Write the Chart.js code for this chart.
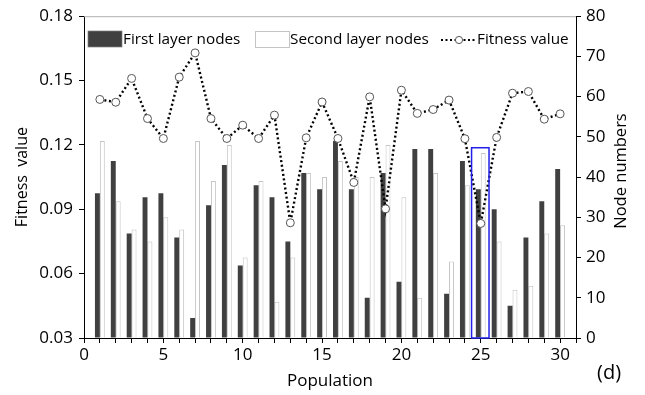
<!DOCTYPE html>
<html>
<head>
<meta charset="utf-8">
<script src="https://cdn.jsdelivr.net/npm/chart.js@4"></script>
<style>
html,body{margin:0;padding:0;background:#fff;}
#wrap{width:645px;height:395px;position:relative;}
</style>
</head>
<body>
<div id="wrap"><canvas id="c" width="645" height="395"></canvas></div>
<script>
const population = [1,2,3,4,5,6,7,8,9,10,11,12,13,14,15,16,17,18,19,20,21,22,23,24,25,26,27,28,29,30];
const firstLayer = [36,44,26,35,36,25,5,33,43,18,38,35,24,41,37,49,37,10,41,14,47,47,11,44,37,32,8,25,34,42];
const secondLayer = [49,34,27,24,30,27,49,39,48,20,39,9,20,41,40,44,40,40,48,35,10,41,19,38,46,24,12,13,26,28];
const fitness = [0.1412,0.1399,0.1510,0.1323,0.1230,0.1516,0.1629,0.1323,0.1230,0.1292,0.1230,0.1339,0.0837,0.1233,0.1400,0.1230,0.1025,0.1424,0.0902,0.1455,0.1347,0.1365,0.1409,0.1229,0.0834,0.1235,0.1441,0.1449,0.1320,0.1345];
const fitnessTicks = [0.03,0.06,0.09,0.12,0.15,0.18];
const nodeTicks = [0,10,20,30,40,50,60,70,80];
const highlight = {x0: 24.42, x1: 25.52, top: 47.3};

const FONT = '"Open Sans"';

const extras = {
  id: 'extras',
  afterDatasetsDraw(chart) {
    const {ctx, chartArea: a, scales} = chart;
    ctx.save();
    // top frame line
    ctx.strokeStyle = '#b0b0b0';
    ctx.lineWidth = 1;
    ctx.beginPath();
    ctx.moveTo(a.left, a.top + 0.5);
    ctx.lineTo(a.right, a.top + 0.5);
    ctx.stroke();
    // highlight rectangle
    const x0 = scales.x.getPixelForValue(highlight.x0);
    const x1 = scales.x.getPixelForValue(highlight.x1);
    const yt = scales.y2.getPixelForValue(highlight.top);
    const yb = scales.y2.getPixelForValue(0);
    ctx.strokeStyle = '#1f1fe6';
    ctx.lineWidth = 1.5;
    ctx.strokeRect(x0, yt, x1 - x0, yb - yt);
    // legend
    ctx.font = '15.3px ' + FONT;
    ctx.textBaseline = 'middle';
    const ly = 40;
    ctx.fillStyle = '#404040';
    ctx.fillRect(88, 31, 34, 16);
    ctx.strokeStyle = '#808080';
    ctx.lineWidth = 0.7;
    ctx.strokeRect(88, 31, 34, 16);
    ctx.fillStyle = '#000';
    ctx.fillText('First layer nodes', 123, ly);
    ctx.fillStyle = '#fff';
    ctx.fillRect(255, 31, 34, 16);
    ctx.strokeStyle = '#c4c4c4';
    ctx.lineWidth = 1;
    ctx.strokeRect(255.5, 31.5, 34, 16);
    ctx.fillStyle = '#000';
    ctx.fillText('Second layer nodes', 290, ly);
    ctx.strokeStyle = '#000';
    ctx.lineWidth = 2.2;
    ctx.setLineDash([2, 2.5]);
    ctx.beginPath();
    ctx.moveTo(441, ly);
    ctx.lineTo(476, ly);
    ctx.stroke();
    ctx.setLineDash([]);
    ctx.beginPath();
    ctx.arc(459, ly, 3.6, 0, Math.PI * 2);
    ctx.fillStyle = '#fff';
    ctx.fill();
    ctx.strokeStyle = '#555';
    ctx.lineWidth = 1;
    ctx.stroke();
    ctx.fillStyle = '#000';
    ctx.fillText('Fitness value', 477, ly);
    // right axis title
    ctx.save();
    ctx.translate(621, 171);
    ctx.rotate(-Math.PI / 2);
    ctx.textAlign = 'center';
    ctx.font = '16.5px ' + FONT;
    ctx.fillText('Node numbers', 0, 0);
    ctx.restore();
    // panel label
    ctx.font = '20px ' + FONT;
    ctx.textAlign = 'left';
    ctx.fillText('(d)', 597, 373);
    ctx.restore();
  }
};

new Chart(document.getElementById('c'), {
  type: 'bar',
  data: {
    datasets: [
      {
        type: 'line',
        label: 'Fitness value',
        data: population.map((p, i) => ({x: p, y: fitness[i]})),
        yAxisID: 'y',
        borderColor: '#000',
        borderWidth: 2.4,
        borderDash: [2, 2.6],
        pointRadius: 4,
        pointBackgroundColor: '#fff',
        pointBorderColor: '#555',
        pointBorderWidth: 1,
        tension: 0,
        order: 0
      },
      {
        label: 'First layer nodes',
        data: population.map((p, i) => ({x: p, y: firstLayer[i]})),
        yAxisID: 'y2',
        backgroundColor: '#404040',
        borderWidth: 0,
        categoryPercentage: 0.62,
        barPercentage: 1,
        order: 1
      },
      {
        label: 'Second layer nodes',
        data: population.map((p, i) => ({x: p, y: secondLayer[i]})),
        yAxisID: 'y2',
        backgroundColor: '#fff',
        borderColor: '#c4c4c4',
        borderWidth: 1,
        categoryPercentage: 0.62,
        barPercentage: 1,
        order: 1
      }
    ]
  },
  options: {
    responsive: false,
    animation: false,
    events: [],
    layout: {padding: {top: 16, left: 0, right: 0, bottom: 0}},
    plugins: {legend: {display: false}, tooltip: {enabled: false}},
    scales: {
      x: {
        type: 'linear',
        min: 0, max: 31,
        offset: false,
        afterFit(s) { s.height = 57; },
        afterBuildTicks(s) { s.ticks = Array.from({length: 32}, (_, i) => ({value: i})); },
        grid: {offset: false, drawOnChartArea: false, drawTicks: true, tickLength: 5, tickColor: '#000'},
        border: {color: '#000', width: 1},
        ticks: {
          autoSkip: false, maxRotation: 0, padding: 2,
          color: '#000', font: {family: FONT, size: 17},
          callback: (v) => (v % 5 === 0 && v <= 30) ? String(v) : ''
        },
        title: {display: true, text: 'Population', color: '#000', font: {family: FONT, size: 17}, padding: {top: 0, bottom: 4}}
      },
      y: {
        position: 'left',
        min: 0.03, max: 0.18,
        afterFit(s) { s.width = 84; },
        afterBuildTicks(s) { s.ticks = fitnessTicks.map(v => ({value: v})); },
        grid: {drawOnChartArea: false, drawTicks: true, tickLength: 5, tickColor: '#000'},
        border: {color: '#000', width: 1},
        ticks: {padding: 6, color: '#000', font: {family: FONT, size: 17}, callback: (v) => Number(v).toFixed(2)},
        title: {display: true, text: 'Fitness  value', color: '#000', font: {family: FONT, size: 16}, padding: {top: 13, bottom: 0}}
      },
      y2: {
        position: 'right',
        min: 0, max: 80,
        afterFit(s) { s.width = 69; },
        afterBuildTicks(s) { s.ticks = nodeTicks.map(v => ({value: v})); },
        grid: {drawOnChartArea: false, drawTicks: true, tickLength: 5, tickColor: '#000'},
        border: {color: '#000', width: 1},
        ticks: {padding: 5, color: '#000', font: {family: FONT, size: 17}}
      }
    }
  },
  plugins: [extras]
});
</script>
</body>
</html>
